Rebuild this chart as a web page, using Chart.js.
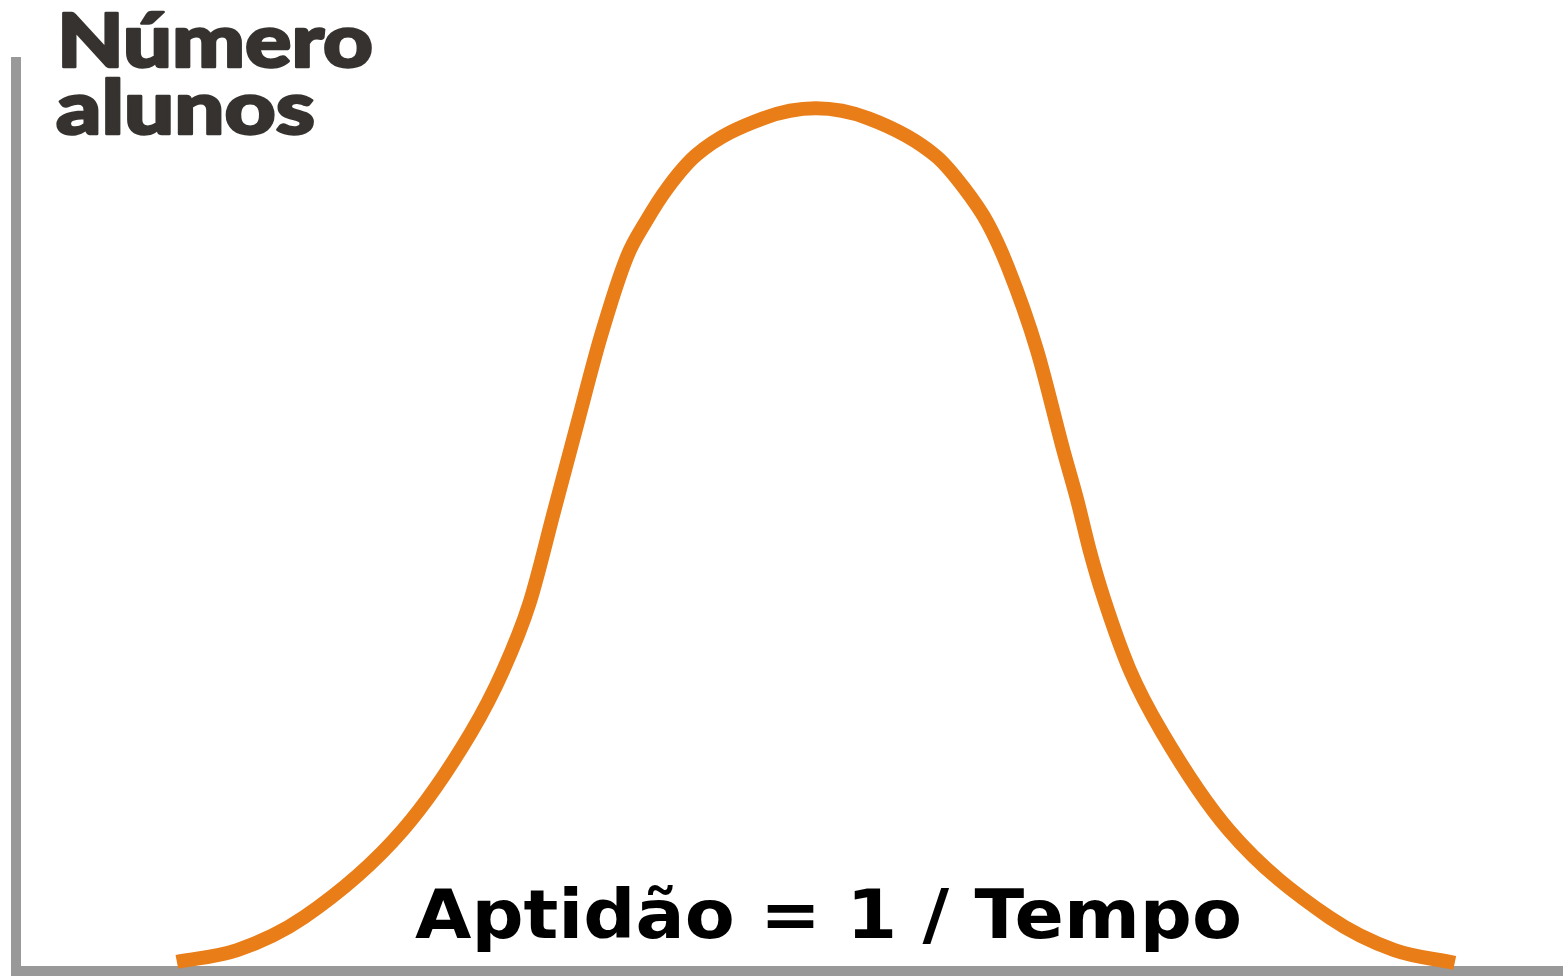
<!DOCTYPE html>
<html>
<head>
<meta charset="utf-8">
<script src="https://cdn.jsdelivr.net/npm/chart.js@4.4.0/dist/chart.umd.min.js"></script>
<style>
  html, body { margin: 0; padding: 0; background: #fff; }
  canvas { display: block; }
</style>
</head>
<body>
<canvas id="grafico" width="1563" height="978"></canvas>
<script>
// curva (unidades arbitrárias 0-100)
const aptidao = [10.4, 14.3, 18.6, 25.0, 29.4, 31.5, 33.2, 34.8, 36.3, 37.8, 39.5, 40.7, 42.1, 44.0, 48.3, 51.7,
                 55.1, 59.5, 61.3, 62.8, 64.1, 66.0, 67.7, 68.6, 69.4, 70.3, 72.0, 74.1, 78.4, 84.9, 89.1, 93.0];
const alunos  = [1.0, 2.3, 5.9, 15.5, 26.2, 33.1, 40.5, 50.7, 60.3, 69.8, 78.6, 82.4, 86.1, 89.8, 93.8, 94.9,
                 93.8, 89.6, 86.1, 82.3, 77.5, 68.3, 57.3, 51.8, 46.3, 41.1, 33.1, 26.2, 15.5, 5.9, 2.3, 0.9];
const tituloY = ['Número', 'alunos'];
const tituloX = 'Aptidão = 1 / Tempo';

function escrever(ctx, txt, x, y, largura, contorno) {
  const w = ctx.measureText(txt).width;
  ctx.save();
  ctx.translate(x, y);
  ctx.scale(largura / w, 1);
  ctx.fillText(txt, 0, 0);
  if (contorno) {
    ctx.lineWidth = contorno;
    ctx.lineJoin = 'round';
    ctx.strokeText(txt, 0, 0);
  }
  ctx.restore();
}

// textos desenhados no canvas
const textos = {
  id: 'textos',
  afterDraw(chart) {
    const ctx = chart.ctx;
    ctx.save();
    ctx.textAlign = 'left';
    ctx.textBaseline = 'alphabetic';
    ctx.fillStyle = ctx.strokeStyle = '#36322f';
    ctx.font = '900 74px Lato';
    escrever(ctx, tituloY[0], 57, 67, 316, 2.5);
    escrever(ctx, tituloY[1], 56, 134, 259, 2.5);
    ctx.fillStyle = '#000';
    ctx.font = 'bold 68px "DejaVu Sans"';
    escrever(ctx, tituloX, 415, 938, 827);
    ctx.restore();
  }
};

new Chart(document.getElementById('grafico'), {
  type: 'line',
  data: {
    datasets: [{
      data: aptidao.map((x, i) => ({ x: x, y: alunos[i] })),
      borderColor: '#e97d18',
      borderWidth: 14,
      pointRadius: 0,
      cubicInterpolationMode: 'monotone',
      fill: false
    }]
  },
  options: {
    responsive: false,
    animation: false,
    devicePixelRatio: 1,
    layout: { autoPadding: false, padding: { left: 16, top: 62, right: 0, bottom: 7 } },
    plugins: { legend: { display: false }, tooltip: { enabled: false } },
    scales: {
      x: {
        type: 'linear', min: 0, max: 100,
        ticks: { display: false },
        grid: { display: false, drawTicks: false },
        border: { color: '#999999', width: 10 }
      },
      y: {
        min: 0, max: 100,
        ticks: { display: false },
        grid: { display: false, drawTicks: false },
        border: { color: '#999999', width: 10 }
      }
    }
  },
  plugins: [textos]
});
</script>
</body>
</html>
